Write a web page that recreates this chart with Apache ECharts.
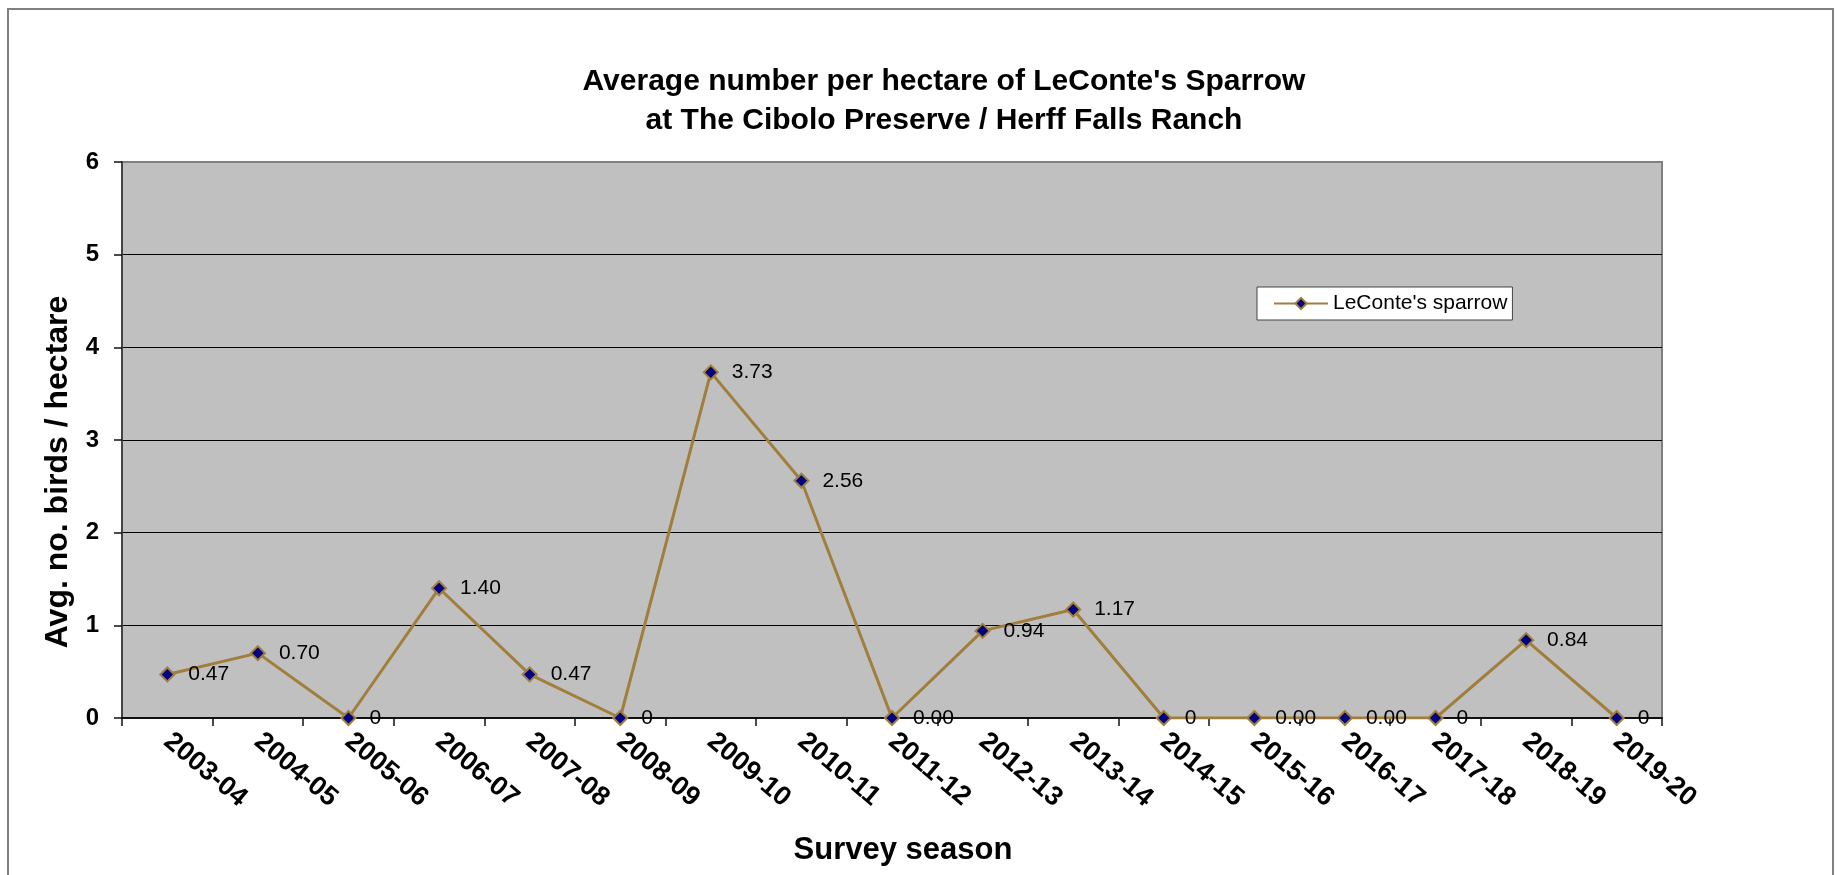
<!DOCTYPE html>
<html>
<head>
<meta charset="utf-8">
<title>LeConte's Sparrow</title>
<script src="https://cdn.jsdelivr.net/npm/echarts@6/dist/echarts.min.js"></script>
<style>
    html, body { margin: 0; padding: 0; background: #fff; }
    #chart { width: 1837px; height: 875px; }
</style>
</head>
<body>
<div id="chart"></div>
<script>
// survey seasons on the category axis
const seasons = [
    "2003-04", "2004-05", "2005-06", "2006-07", "2007-08", "2008-09",
    "2009-10", "2010-11", "2011-12", "2012-13", "2013-14", "2014-15",
    "2015-16", "2016-17", "2017-18", "2018-19", "2019-20",
];
// avg. birds per hectare
const density = [0.47, 0.70, 0, 1.40, 0.47, 0, 3.73, 2.56, 0, 0.94, 1.17, 0, 0, 0, 0, 0.84, 0];
// the labels as printed next to each point (some zeros show as "0.00")
const pointLabels = [
    "0.47", "0.70", "0", "1.40", "0.47", "0", "3.73", "2.56", "0.00",
    "0.94", "1.17", "0", "0.00", "0.00", "0", "0.84", "0",
];
const yMin = 0, yMax = 6, yStep = 1;

const font = "'Liberation Sans', Arial, sans-serif";
const lineColor = "#a07e3c";

const chart = echarts.init(document.getElementById("chart"), null, { renderer: "canvas" });

chart.setOption({
    animation: false,
    textStyle: { fontFamily: font, color: "#000" },
    title: {
        text: "Average number per hectare of LeConte's Sparrow\nat The Cibolo Preserve / Herff Falls Ranch",
        left: 944,
        top: 62,
        padding: 0,
        textAlign: "center",
        textStyle: { fontFamily: font, fontSize: 30, fontWeight: "bold", lineHeight: 39, color: "#000" },
    },
    legend: {
        left: 1257,
        top: 287,
        padding: [6, 5, 6, 16],
        itemWidth: 54,
        itemHeight: 14,
        backgroundColor: "#fff",
        borderColor: "#444",
        borderWidth: 1,
        borderRadius: 0,
        textStyle: { fontFamily: font, fontSize: 21, color: "#000" },
    },
    grid: {
        left: 122,
        right: 175,
        top: 162,
        bottom: 157,
        show: true,
        backgroundColor: "#c0c0c0",
        borderColor: "#808080",
        borderWidth: 2,
    },
    xAxis: {
        type: "category",
        data: seasons,
        boundaryGap: true,
        axisLine: { show: true, lineStyle: { color: "#111", width: 2 } },
        axisTick: { show: true, interval: 0, alignWithLabel: false, length: 8, lineStyle: { color: "#111", width: 1.5 } },
        axisLabel: {
            interval: 0,
            rotate: -40,
            margin: 20,
            fontFamily: font,
            fontSize: 27,
            fontWeight: "bold",
            color: "#000",
        },
        splitLine: { show: false },
    },
    yAxis: {
        type: "value",
        min: yMin,
        max: yMax,
        interval: yStep,
        axisLine: { show: true, lineStyle: { color: "#444", width: 2 } },
        axisTick: { show: true, length: 8, lineStyle: { color: "#111", width: 1.5 } },
        axisLabel: {
            margin: 23,
            fontFamily: font,
            fontSize: 24,
            fontWeight: "bold",
            color: "#000",
        },
        splitLine: {
            show: true,
            showMinLine: false,
            showMaxLine: false,
            lineStyle: { color: "#000", width: 1.2 },
        },
    },
    graphic: [
        {
            type: "rect",
            silent: true,
            shape: { x: 8, y: 9, width: 1825, height: 920 },
            style: { fill: null, stroke: "#808080", lineWidth: 2 },
            z: -10,
        },
        {
            type: "text",
            silent: true,
            x: 58,
            y: 472,
            rotation: Math.PI / 2,
            style: {
                text: "Avg. no. birds / hectare",
                font: "bold 32px " + font,
                fill: "#000",
                align: "center",
                verticalAlign: "middle",
            },
        },
        {
            type: "text",
            silent: true,
            x: 903,
            y: 850,
            style: {
                text: "Survey season",
                font: "bold 31px " + font,
                fill: "#000",
                align: "center",
                verticalAlign: "middle",
            },
        },
    ],
    series: [
        {
            name: "LeConte's sparrow",
            type: "line",
            data: density,
            symbol: "diamond",
            symbolSize: 14,
            showAllSymbol: true,
            lineStyle: { color: lineColor, width: 3 },
            itemStyle: { color: "#000080", borderColor: lineColor, borderWidth: 2 },
            label: {
                show: true,
                position: "right",
                distance: 13,
                fontFamily: font,
                fontSize: 21,
                color: "#000",
                formatter: (p) => pointLabels[p.dataIndex],
            },
            emphasis: { disabled: true },
        },
    ],
});
</script>
</body>
</html>
